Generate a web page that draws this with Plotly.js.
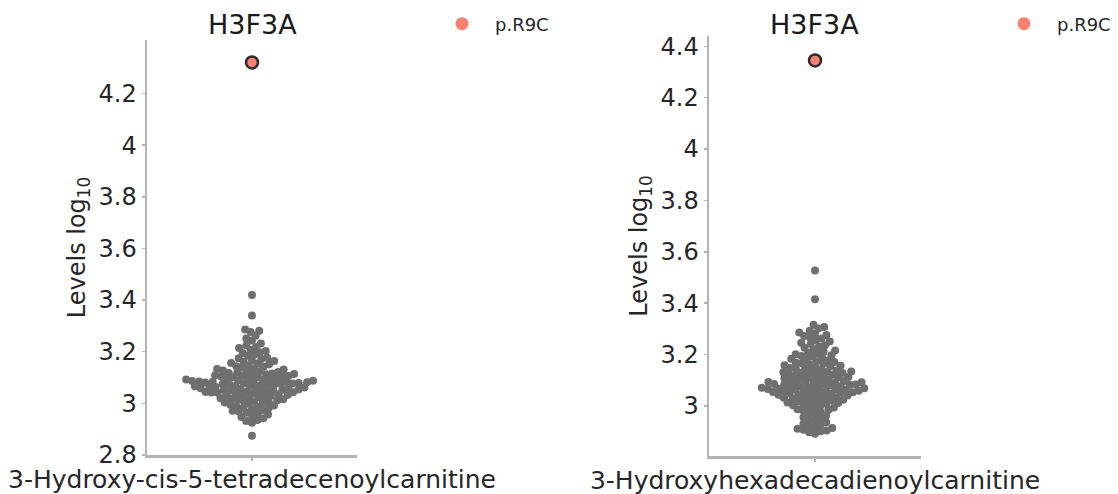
<!DOCTYPE html>
<html>
<head>
<meta charset="utf-8">
<script src="https://cdn.plot.ly/plotly-3.0.1.min.js"></script>
<style>
  html, body { margin: 0; padding: 0; background: #ffffff; }
  #chart { width: 1118px; height: 494px; }
</style>
</head>
<body>
<div id="chart"></div>
<script>
// ---------------- data ----------------
const gene = 'H3F3A';
const variantName = 'p.R9C';
const leftMetabolite = '3-Hydroxy-cis-5-tetradecenoylcarnitine';
const rightMetabolite = '3-Hydroxyhexadecadienoylcarnitine';
const yTitle = 'Levels log<sub>10</sub>';

const leftVariant = [4.32];
const rightVariant = [4.345];

const leftOthers = [
  3.42, 3.34, 3.286, 3.281, 3.276, 3.262, 3.251, 3.243, 3.232,
  3.224, 3.218, 3.214, 3.207, 3.203, 3.198, 3.195, 3.188, 3.184, 3.177,
  3.175, 3.172, 3.166, 3.164, 3.161, 3.156, 3.154, 3.151, 3.146,
  3.144, 3.142, 3.138, 3.135, 3.133, 3.131, 3.127, 3.124,
  3.123, 3.121, 3.118, 3.116, 3.112, 3.113, 3.109, 3.107, 3.104, 3.101,
  3.119, 3.114, 3.106,
  3.103, 3.101, 3.098, 3.096, 3.093, 3.091,
  3.094, 3.092, 3.089, 3.087, 3.085, 3.083, 3.081,
  3.088, 3.086, 3.084, 3.082, 3.079, 3.078,
  3.077, 3.076, 3.075, 3.074, 3.073, 3.072, 3.071,
  3.069, 3.067, 3.066, 3.064, 3.063, 3.062, 3.061, 3.060,
  3.058, 3.056, 3.054, 3.053, 3.052, 3.051, 3.050,
  3.049, 3.047, 3.046, 3.044, 3.043, 3.042, 3.041,
  3.039, 3.037, 3.035, 3.033, 3.032, 3.030,
  3.029, 3.026, 3.024, 3.022, 3.020,
  3.019, 3.016, 3.014, 3.012, 3.010,
  3.008, 3.005, 3.003, 3.001,
  2.998, 2.995, 2.992, 2.990,
  2.988, 2.984, 2.981, 2.978, 2.974, 2.971,
  2.968, 2.964, 2.961, 2.957, 2.952, 2.947, 2.942,
  2.936, 2.932, 2.925, 2.875
];

const rightOthers = [
  3.527, 3.415, 3.316, 3.307, 3.301, 3.293,
  3.286, 3.281, 3.276, 3.272, 3.266, 3.262, 3.256, 3.251,
  3.246, 3.242, 3.236, 3.231, 3.226, 3.221, 3.216, 3.211,
  3.207, 3.204, 3.201, 3.197, 3.194, 3.191, 3.187, 3.184, 3.181,
  3.177, 3.174, 3.171, 3.168, 3.166, 3.163, 3.161,
  3.158, 3.156, 3.153, 3.151, 3.148, 3.146, 3.143, 3.141,
  3.138, 3.136, 3.133, 3.131, 3.128, 3.126, 3.123, 3.121,
  3.134, 3.129,
  3.119, 3.117, 3.115, 3.113, 3.111, 3.109, 3.107, 3.105, 3.103, 3.101,
  3.099, 3.097, 3.095, 3.093, 3.092, 3.091,
  3.089, 3.088, 3.086, 3.085, 3.083, 3.082, 3.081,
  3.079, 3.077, 3.076, 3.075, 3.074, 3.073, 3.071,
  3.069, 3.068, 3.066, 3.065, 3.064, 3.063, 3.062, 3.061,
  3.059, 3.057, 3.055, 3.054, 3.053, 3.052, 3.051,
  3.049, 3.047, 3.045, 3.043, 3.042, 3.041,
  3.039, 3.036, 3.034, 3.032, 3.031,
  3.029, 3.026, 3.024, 3.022, 3.021,
  3.018, 3.015, 3.013, 3.011, 3.008, 3.005, 3.003, 3.001,
  2.997, 2.994, 2.991, 2.987, 2.984, 2.981,
  2.976, 2.972, 2.966, 2.962, 2.956, 2.952, 2.946, 2.942,
  2.936, 2.932, 2.926, 2.922, 2.917, 2.914, 2.911,
  2.907, 2.904, 2.901, 2.897, 2.892
];

const leftTickVals = [2.8, 3, 3.2, 3.4, 3.6, 3.8, 4, 4.2];
const leftTickText = ['2.8', '3', '3.2', '3.4', '3.6', '3.8', '4', '4.2'];
const rightTickVals = [3, 3.2, 3.4, 3.6, 3.8, 4, 4.2, 4.4];
const rightTickText = ['3', '3.2', '3.4', '3.6', '3.8', '4', '4.2', '4.4'];

// ---------------- geometry ----------------
const W = 1118, H = 494;
const leftXpx = [147, 357], leftYpx = [40, 455];
const rightXpx = [709, 921], rightYpx = [36, 456];
const leftRange = [2.8, 4.407];
const rightRange = [2.805, 4.44];
const xRange = [-0.5, 0.5];
const dotSize = 8;
const swarmGap = 6.1;   // centre-to-centre spacing of the swarm (dots overlap slightly)

function dom(px, total, flip) {
  if (flip) return [1 - px[1] / total, 1 - px[0] / total];
  return [px[0] / total, px[1] / total];
}

// beeswarm: place points (sorted by value) at the free x offset closest to the center
function swarm(values, yRange, yPx, xPx) {
  const pyPerUnit = (yPx[1] - yPx[0]) / (yRange[1] - yRange[0]);
  const pxPerUnit = (xPx[1] - xPx[0]) / (xRange[1] - xRange[0]);
  const d = swarmGap;
  const order = values.map((v, i) => i).sort((a, b) => values[a] - values[b]);
  const placed = [];
  const xs = new Array(values.length).fill(0);
  for (const i of order) {
    const y = values[i] * pyPerUnit;
    const nb = placed.filter(p => Math.abs(p.y - y) < d);
    const cands = [0];
    for (const p of nb) {
      const dx = Math.sqrt(d * d - (p.y - y) * (p.y - y));
      cands.push(p.x + dx, p.x - dx);
    }
    cands.sort((a, b) => (Math.abs(a) - Math.abs(b)) || (a - b));
    for (const c of cands) {
      let ok = true;
      for (const p of nb) {
        if ((p.x - c) * (p.x - c) + (p.y - y) * (p.y - y) < d * d - 1e-6) { ok = false; break; }
      }
      if (ok) { xs[i] = c / pxPerUnit; placed.push({ x: c, y: y }); break; }
    }
  }
  return xs;
}

const grey = '#6f6f6f';
const salmon = '#fa8072';

const traces = [
  {
    type: 'scatter', mode: 'markers', xaxis: 'x', yaxis: 'y',
    x: swarm(leftOthers, leftRange, leftYpx, leftXpx), y: leftOthers,
    marker: { color: grey, size: dotSize }, showlegend: false, hoverinfo: 'y'
  },
  {
    type: 'scatter', mode: 'markers', xaxis: 'x', yaxis: 'y',
    x: leftVariant.map(() => 0), y: leftVariant,
    marker: { color: salmon, size: 12, line: { color: '#2b2b2b', width: 2.5 } },
    showlegend: false, name: variantName
  },
  {
    type: 'scatter', mode: 'markers', xaxis: 'x2', yaxis: 'y2',
    x: swarm(rightOthers, rightRange, rightYpx, rightXpx), y: rightOthers,
    marker: { color: grey, size: dotSize }, showlegend: false, hoverinfo: 'y'
  },
  {
    type: 'scatter', mode: 'markers', xaxis: 'x2', yaxis: 'y2',
    x: rightVariant.map(() => 0), y: rightVariant,
    marker: { color: salmon, size: 12, line: { color: '#2b2b2b', width: 2.5 } },
    showlegend: false, name: variantName
  },
  // legend entries
  {
    type: 'scatter', mode: 'markers', xaxis: 'x', yaxis: 'y',
    x: [null], y: [null], name: variantName, legend: 'legend',
    marker: { color: salmon, size: 13 }
  },
  {
    type: 'scatter', mode: 'markers', xaxis: 'x2', yaxis: 'y2',
    x: [null], y: [null], name: variantName, legend: 'legend2',
    marker: { color: salmon, size: 13 }
  }
];

const font = { family: 'DejaVu Sans, sans-serif', color: '#262626' };
const axisLine = '#b3b3b3';

function xAxis(px, label) {
  return {
    domain: dom(px, W, false), range: xRange, fixedrange: true,
    showline: true, linecolor: axisLine, linewidth: 2.5, mirror: false,
    showgrid: false, zeroline: false,
    tickmode: 'array', tickvals: [0], ticktext: [label],
    ticks: 'outside', ticklen: 3, tickwidth: 1.5, tickcolor: axisLine,
    ticklabelstandoff: -3,
    tickfont: { family: font.family, color: font.color, size: 25 },
    automargin: false
  };
}
function yAxis(px, range, vals, text, anchor) {
  return {
    domain: dom(px, H, true), range: range, anchor: anchor, fixedrange: true,
    showline: true, linecolor: axisLine, linewidth: 2.5,
    showgrid: false, zeroline: false,
    tickmode: 'array', tickvals: vals, ticktext: text,
    ticks: 'outside', ticklen: 3, tickwidth: 1.5, tickcolor: axisLine,
    tickfont: { family: font.family, color: font.color, size: 24 },
    title: { text: yTitle, font: { family: font.family, color: font.color, size: 24 }, standoff: 6 },
    automargin: false
  };
}

const layout = {
  width: W, height: H,
  margin: { l: 0, r: 0, t: 0, b: 0, pad: 0 },
  paper_bgcolor: '#ffffff', plot_bgcolor: '#ffffff',
  font: font,
  xaxis: Object.assign(xAxis(leftXpx, leftMetabolite), { anchor: 'y' }),
  yaxis: yAxis(leftYpx, leftRange, leftTickVals, leftTickText, 'x'),
  xaxis2: Object.assign(xAxis(rightXpx, rightMetabolite), { anchor: 'y2' }),
  yaxis2: yAxis(rightYpx, rightRange, rightTickVals, rightTickText, 'x2'),
  legend: {
    x: 429 / W, xanchor: 'left', y: 1 - 24 / H, yanchor: 'middle',
    itemwidth: 56, font: { family: font.family, color: font.color, size: 18 },
    bgcolor: 'rgba(0,0,0,0)', borderwidth: 0
  },
  legend2: {
    x: 991 / W, xanchor: 'left', y: 1 - 24 / H, yanchor: 'middle',
    itemwidth: 56, font: { family: font.family, color: font.color, size: 18 },
    bgcolor: 'rgba(0,0,0,0)', borderwidth: 0
  },
  annotations: [
    { text: gene, xref: 'paper', yref: 'paper', x: (leftXpx[0] + leftXpx[1]) / 2 / W, y: 1 - 25 / H,
      xanchor: 'center', yanchor: 'middle', showarrow: false,
      font: { family: font.family, color: '#1a1a1a', size: 27 } },
    { text: gene, xref: 'paper', yref: 'paper', x: (rightXpx[0] + rightXpx[1]) / 2 / W, y: 1 - 25 / H,
      xanchor: 'center', yanchor: 'middle', showarrow: false,
      font: { family: font.family, color: '#1a1a1a', size: 27 } }
  ],
  showlegend: true
};

Plotly.newPlot('chart', traces, layout, { displayModeBar: false, staticPlot: true });
</script>
</body>
</html>
